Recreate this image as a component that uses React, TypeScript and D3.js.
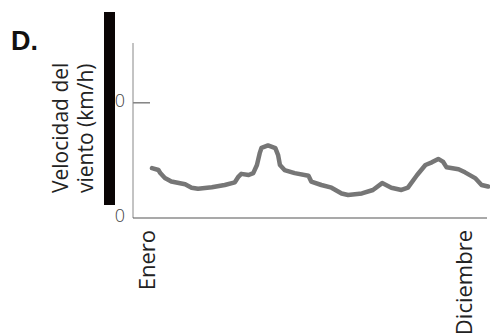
import React from "react";
import * as d3 from "d3";

const days = [0, 7, 9, 14, 21, 36, 43, 50, 65, 79, 90, 94, 97, 105, 110, 114, 117, 119, 126, 134, 137, 139, 144, 155, 170, 173, 184, 195, 206, 213, 228, 240, 250, 260, 271, 278, 288, 297, 304, 311, 316, 320, 333, 340, 351, 358, 365];
const windSpeed = [13.0, 12.5, 11.7, 10.4, 9.5, 8.8, 7.9, 7.6, 8.0, 8.6, 9.3, 10.8, 11.5, 11.2, 11.7, 13.8, 16.9, 18.3, 18.9, 18.2, 16.4, 13.8, 12.5, 11.7, 11.0, 9.5, 8.6, 7.9, 6.4, 6.0, 6.4, 7.3, 9.1, 7.9, 7.3, 7.9, 11.2, 13.8, 14.5, 15.4, 14.7, 13.2, 12.7, 11.9, 10.4, 8.6, 8.2];
const monthLabels = ["Enero", "Diciembre"];
const monthDays = [3, 348];
const yTicks = [0, 30];
const yLabelLines = ["Velocidad del", "viento (km/h)"];
const panelLabel = "D.";

export default function App() {
  const W = 490, H = 333;
  const x = d3.scaleLinear().domain([0, 365]).range([152, 488]);
  const y = d3.scaleLinear().domain([0, 45.6]).range([218, 43]);
  const pts = days.map((d, i) => [x(d), y(windSpeed[i])] as [number, number]);
  const line = d3.line().curve(d3.curveLinear)(pts) || "";
  const font = "'Open Sans', 'Noto Sans', sans-serif";
  return (
    <svg width={W} height={H} style={{ position: "absolute", left: 0, top: 0, background: "#fff" }}>
      <text x={11} y={50} fontFamily="'Liberation Sans', Arial, sans-serif" fontWeight="bold" fontSize={27} fill="#111">{panelLabel}</text>
      {yLabelLines.map((t, i) => (
        <text key={t} transform={`translate(${68 + i * 25},193) rotate(-90)`} textAnchor="start" fontFamily={font} fontSize={21} fill="#222">{t}</text>
      ))}
      {yTicks.map((t) => (
        <g key={t}>
          <text x={125} y={y(t) + 4} textAnchor="end" fontFamily={font} fontSize={18} fontWeight={300} fill="#444">{t}</text>
          {t > 0 && <line x1={133} x2={150} y1={y(t)} y2={y(t)} stroke="#444" strokeWidth={1} />}
        </g>
      ))}
      <rect x={104} y={12} width={11} height={193} fill="#0a0505" />
      <line x1={133} x2={133} y1={y(45.6)} y2={y(0)} stroke="#888" strokeWidth={1} />
      <line x1={133} x2={487} y1={y(0)} y2={y(0)} stroke="#555" strokeWidth={1.2} />
      <path d={line} fill="none" stroke="#767676" strokeWidth={4.5} strokeLinejoin="round" strokeLinecap="round" />
      {monthLabels.map((m, i) => (
        <text key={m} transform={`translate(${x(monthDays[i])},230) rotate(-90)`} textAnchor="end" fontFamily={font} fontSize={22} fill="#222">{m}</text>
      ))}
    </svg>
  );
}
